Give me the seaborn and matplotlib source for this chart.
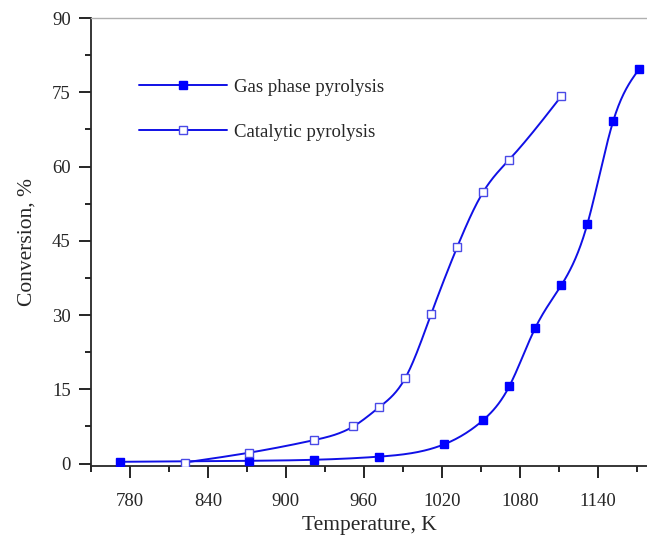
import numpy as np
import matplotlib
matplotlib.use("Agg")
import matplotlib.pyplot as plt
import seaborn as sns
from matplotlib.ticker import MultipleLocator

gas_T = [772, 872, 922, 972, 1022, 1052, 1072, 1092, 1112, 1132, 1152, 1172]
gas_conv = [0.35, 0.55, 0.76, 1.4, 3.9, 8.8, 15.6, 27.4, 36.0, 48.3, 69.2, 79.7]
cat_T = [822, 872, 922, 952, 972, 992, 1012, 1032, 1052, 1072, 1112]
cat_conv = [0.2, 2.2, 4.75, 7.5, 11.4, 17.3, 30.3, 43.8, 54.9, 61.4, 74.2]

x_ticks = [780, 840, 900, 960, 1020, 1080, 1140]
y_ticks = [0, 15, 30, 45, 60, 75, 90]

sns.set_style("ticks")
plt.rcParams['font.family'] = ['Liberation Serif', 'DejaVu Serif']


def smooth(x, y, n=400):
    # natural cubic spline through the data points (drawing only)
    x = np.asarray(x, float)
    y = np.asarray(y, float)
    N = len(x)
    h = np.diff(x)
    A = np.zeros((N, N))
    b = np.zeros(N)
    A[0, 0] = 1
    A[-1, -1] = 1
    for i in range(1, N - 1):
        A[i, i - 1] = h[i - 1]
        A[i, i] = 2 * (h[i - 1] + h[i])
        A[i, i + 1] = h[i]
        b[i] = 6 * ((y[i + 1] - y[i]) / h[i] - (y[i] - y[i - 1]) / h[i - 1])
    M = np.linalg.solve(A, b)
    xs = np.linspace(x[0], x[-1], n)
    idx = np.clip(np.searchsorted(x, xs) - 1, 0, N - 2)
    xi, xi1, hi = x[idx], x[idx + 1], h[idx]
    ys = (M[idx] * (xi1 - xs) ** 3 / (6 * hi) + M[idx + 1] * (xs - xi) ** 3 / (6 * hi)
          + (y[idx] / hi - M[idx] * hi / 6) * (xi1 - xs)
          + (y[idx + 1] / hi - M[idx + 1] * hi / 6) * (xs - xi))
    return xs, ys


fig = plt.figure(figsize=(6.47, 5.38), dpi=100)
ax = fig.add_axes([0.1406, 0.1338, 0.8594, 0.8327])

blue = '#1010e6'
gx, gy = smooth(gas_T, gas_conv)
cx, cy = smooth(cat_T, cat_conv)
sns.lineplot(x=gx, y=gy, ax=ax, color=blue, lw=1.4, sort=False)
sns.lineplot(x=cx, y=cy, ax=ax, color=blue, lw=1.4, sort=False)
ax.plot(gas_T, gas_conv, ls='none', marker='s', ms=5.5, mfc='#0000ff', mec='#0000ff', zorder=3)
ax.plot(cat_T, cat_conv, ls='none', marker='s', ms=5.5, mfc='white', mec='#4a4ae6', mew=1.0, zorder=3)

ax.set_xlim(750, 1178)
ax.set_ylim(-0.5, 90)
ax.set_xticks(x_ticks)
ax.set_yticks(y_ticks)
ax.xaxis.set_minor_locator(MultipleLocator(30))
ax.yaxis.set_minor_locator(MultipleLocator(7.5))
ax.tick_params(which='major', direction='out', length=8.5, width=1.2, labelsize=13.5, color='black')
ax.tick_params(which='minor', direction='out', length=4.5, width=1.2, color='black')
ax.tick_params(axis='x', which='major', pad=11)
ax.tick_params(axis='y', which='major', pad=6)

ax.spines['left'].set_linewidth(1.3)
ax.spines['bottom'].set_linewidth(1.3)
ax.spines['top'].set_color('#b0b0b0')
ax.spines['top'].set_linewidth(1.0)
ax.spines['right'].set_visible(False)

ax.set_xlabel('Temperature, K', fontsize=15.5, labelpad=4)
ax.set_ylabel('Conversion, %', fontsize=15.5, labelpad=11)

h1, = ax.plot([], [], color=blue, lw=1.4, marker='s', ms=5.5, mfc='#0000ff', mec='#0000ff')
h2, = ax.plot([], [], color=blue, lw=1.4, marker='s', ms=5.5, mfc='white', mec='#4a4ae6')
ax.legend([h1, h2], ['Gas phase pyrolysis', 'Catalytic pyrolysis'],
          loc='upper left', bbox_to_anchor=(0.0725, 0.882), frameon=False,
          fontsize=13.5, handlelength=4.7, handletextpad=0.4, labelspacing=1.5,
          borderaxespad=0)

fig.savefig('out.png', dpi=100)
